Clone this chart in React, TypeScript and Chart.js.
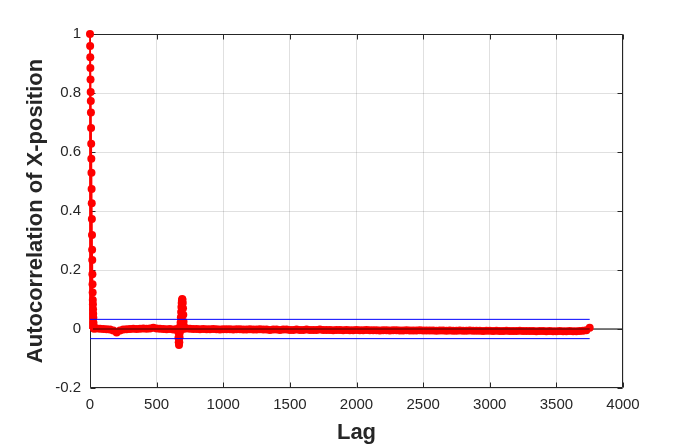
import React, { useEffect, useRef } from 'react';
import { Chart, registerables } from 'chart.js';

Chart.register(...registerables);

// Autocorrelation values for the first lags (lag = index)
const HEAD_VALUES = [
  1.0, 0.959, 0.921, 0.885, 0.846, 0.803, 0.773, 0.734, 0.681, 0.628,
  0.577, 0.53, 0.475, 0.426, 0.373, 0.319, 0.269, 0.234, 0.186, 0.152,
  0.124, 0.098, 0.084, 0.067, 0.052, 0.038, 0.021, 0.01, 0.006, 0.003, 0.001,
];

// Tail: lags 50, 75, ..., 3750
const TAIL_START = 50;
const TAIL_STEP = 25;
const TAIL_VALUES = [
  0.002, 0.001, 0.0, -0.001, -0.002, -0.005, -0.012, -0.005, -0.002, -0.001,
  0.0, 0.001, 0.0, 0.001, 0.002, 0.001, 0.002, 0.004, 0.002, 0.001,
  0.0, -0.001, 0.0, -0.002, 0.0, 0.0, 0.0, 0.002, 0.001, 0.0,
  0.0, -0.001, 0.0, -0.001, -0.001, 0.0, -0.001, -0.002, -0.001, -0.001,
  -0.001, -0.002, -0.001, -0.001, -0.002, -0.002, -0.001, -0.002, -0.002, -0.001,
  -0.002, -0.002, -0.003, -0.002, -0.002, -0.003, -0.002, -0.002, -0.003, -0.003,
  -0.002, -0.003, -0.003, -0.002, -0.003, -0.003, -0.003, -0.002, -0.003, -0.003,
  -0.003, -0.004, -0.003, -0.003, -0.004, -0.003, -0.004, -0.004, -0.003, -0.004,
  -0.004, -0.003, -0.004, -0.004, -0.004, -0.005, -0.004, -0.004, -0.005, -0.004,
  -0.004, -0.005, -0.005, -0.004, -0.005, -0.005, -0.005, -0.004, -0.005, -0.005,
  -0.005, -0.005, -0.006, -0.005, -0.005, -0.006, -0.005, -0.006, -0.006, -0.005,
  -0.006, -0.006, -0.005, -0.006, -0.006, -0.006, -0.007, -0.006, -0.006, -0.007,
  -0.006, -0.007, -0.007, -0.006, -0.007, -0.007, -0.007, -0.006, -0.007, -0.007,
  -0.007, -0.007, -0.008, -0.007, -0.007, -0.008, -0.007, -0.008, -0.008, -0.007,
  -0.008, -0.008, -0.007, -0.008, -0.008, -0.007, -0.006, -0.004, 0.004,
];

// Oscillation around lag ~680
const SPIKE_LAGS = [
  662, 664, 666, 668, 670, 672, 674, 676, 678, 680, 682, 684,
  686, 688, 690, 692, 694, 696, 698, 700, 702, 704, 706,
];
const SPIKE_VALUES = [
  -0.01, -0.03, -0.045, -0.054, -0.045, -0.028, -0.012, 0.0, 0.01, 0.022, 0.04, 0.058,
  0.075, 0.088, 0.097, 0.102, 0.099, 0.088, 0.07, 0.048, 0.025, 0.01, 0.003,
];

// Confidence bounds
const BOUND_UPPER = 0.0327;
const BOUND_LOWER = -0.0327;
const MAX_LAG = 3750;

const X_MIN = 0;
const X_MAX = 4000;
const X_STEP = 500;
const Y_MIN = -0.2;
const Y_MAX = 1;
const Y_STEP = 0.2;

const X_TITLE = 'Lag';
const Y_TITLE = 'Autocorrelation of X-position';

const FONT = '"Liberation Sans", Arial, Helvetica, sans-serif';
const AXIS_COLOR = '#262626';

function buildPoints() {
  const pts: { x: number; y: number }[] = [];
  HEAD_VALUES.forEach((v, i) => pts.push({ x: i, y: v }));
  TAIL_VALUES.forEach((v, i) => pts.push({ x: TAIL_START + i * TAIL_STEP, y: v }));
  SPIKE_LAGS.forEach((l, i) => pts.push({ x: l, y: SPIKE_VALUES[i] }));
  return pts;
}

const stemPlugin = {
  id: 'stems',
  beforeDatasetsDraw(chart: any) {
    const { ctx, chartArea, scales } = chart;
    const xs = scales.x;
    const ys = scales.y;
    const y0 = ys.getPixelForValue(0);
    ctx.save();
    // baseline
    ctx.strokeStyle = '#000000';
    ctx.lineWidth = 1;
    ctx.beginPath();
    ctx.moveTo(chartArea.left, y0);
    ctx.lineTo(chartArea.right, y0);
    ctx.stroke();

    // box
    const l = Math.round(chartArea.left) + 0.5;
    const r = Math.round(chartArea.right) - 0.5;
    const t = Math.round(chartArea.top) + 0.5;
    const b = Math.round(chartArea.bottom) - 0.5;
    ctx.strokeStyle = AXIS_COLOR;
    ctx.lineWidth = 1;
    ctx.beginPath();
    ctx.rect(l, t, r - l, b - t);
    ctx.stroke();
    // inward ticks
    const tl = 5;
    ctx.beginPath();
    for (const tk of xs.ticks) {
      const px = Math.round(xs.getPixelForValue(tk.value)) + 0.5;
      ctx.moveTo(px, b);
      ctx.lineTo(px, b - tl);
      ctx.moveTo(px, t);
      ctx.lineTo(px, t + tl);
    }
    for (const tk of ys.ticks) {
      const py = Math.round(ys.getPixelForValue(tk.value)) + 0.5;
      ctx.moveTo(l, py);
      ctx.lineTo(l + tl, py);
      ctx.moveTo(r, py);
      ctx.lineTo(r - tl, py);
    }
    ctx.stroke();

    // stems
    ctx.strokeStyle = '#ff0000';
    ctx.lineWidth = 1.8;
    const pts = chart.data.datasets[2].data;
    ctx.beginPath();
    for (const p of pts) {
      const px = xs.getPixelForValue(p.x);
      ctx.moveTo(px, y0);
      ctx.lineTo(px, ys.getPixelForValue(p.y));
    }
    ctx.stroke();
    ctx.restore();
  },
  afterDatasetsDraw(chart: any) {
    const { ctx, scales } = chart;
    const xs = scales.x;
    const ys = scales.y;
    const y0 = ys.getPixelForValue(0);
    ctx.save();
    // dark centre of the stem baseline over the markers
    ctx.strokeStyle = '#a00000';
    ctx.lineWidth = 2;
    ctx.beginPath();
    ctx.moveTo(xs.getPixelForValue(0) + 3, y0);
    ctx.lineTo(xs.getPixelForValue(MAX_LAG), y0);
    ctx.stroke();
    ctx.restore();
  },
};

export default function App() {
  const ref = useRef<HTMLCanvasElement | null>(null);

  useEffect(() => {
    if (!ref.current) return;
    const points = buildPoints();
    const chart = new Chart(ref.current, {
      type: 'scatter',
      data: {
        datasets: [
          {
            type: 'line',
            data: [
              { x: 0, y: BOUND_UPPER },
              { x: MAX_LAG, y: BOUND_UPPER },
            ],
            borderColor: '#0000ff',
            borderWidth: 1,
            pointRadius: 0,
            fill: false,
          },
          {
            type: 'line',
            data: [
              { x: 0, y: BOUND_LOWER },
              { x: MAX_LAG, y: BOUND_LOWER },
            ],
            borderColor: '#0000ff',
            borderWidth: 1,
            pointRadius: 0,
            fill: false,
          },
          {
            data: points,
            showLine: false,
            clip: false,
            pointRadius: 4,
            pointBackgroundColor: '#ff0000',
            pointBorderColor: '#ff0000',
            pointBorderWidth: 0,
          },
        ],
      } as any,
      options: {
        responsive: false,
        animation: false,
        events: [],
        layout: { padding: { top: 34, right: 67, left: 0, bottom: 0 } },
        plugins: {
          legend: { display: false },
          tooltip: { enabled: false },
          title: { display: false },
        },
        scales: {
          x: {
            type: 'linear',
            min: X_MIN,
            max: X_MAX,
            border: { display: false },
            grid: { color: 'rgba(0,0,0,0.12)', lineWidth: 1, drawTicks: false },
            ticks: {
              stepSize: X_STEP,
              autoSkip: false,
              maxRotation: 0,
              padding: 8,
              color: AXIS_COLOR,
              font: { family: FONT, size: 15 },
              callback: (v: any) => String(v),
            },
            title: {
              display: true,
              text: X_TITLE,
              color: AXIS_COLOR,
              font: { family: FONT, size: 22, weight: 'bold' },
              padding: { top: 0, bottom: 2 },
            },
            afterFit: (s: any) => {
              s.height = 60;
            },
          },
          y: {
            type: 'linear',
            min: Y_MIN,
            max: Y_MAX,
            border: { display: false },
            grid: { color: 'rgba(0,0,0,0.12)', lineWidth: 1, drawTicks: false },
            ticks: {
              stepSize: Y_STEP,
              autoSkip: false,
              padding: 9,
              color: AXIS_COLOR,
              font: { family: FONT, size: 15 },
              callback: (v: any) => String(Number(Number(v).toFixed(1))),
            },
            title: {
              display: true,
              text: Y_TITLE,
              color: AXIS_COLOR,
              font: { family: FONT, size: 22, weight: 'bold' },
              padding: { top: 23, bottom: 0 },
            },
            afterFit: (s: any) => {
              s.width = 90;
            },
          },
        },
      } as any,
      plugins: [stemPlugin],
    });
    return () => chart.destroy();
  }, []);

  return (
    <div style={{ position: 'absolute', left: 0, top: 0, width: 690, height: 448, background: '#ffffff' }}>
      <canvas ref={ref} width={690} height={448} />
    </div>
  );
}
